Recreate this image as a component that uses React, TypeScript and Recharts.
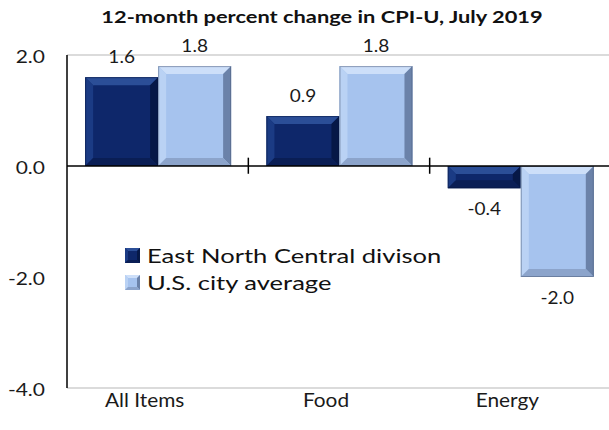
import React from 'react';
import { BarChart, Bar, XAxis, YAxis, ReferenceLine, LabelList, Legend } from 'recharts';

const categories = ['All Items', 'Food', 'Energy'];
const eastNorthCentral = [1.6, 0.9, -0.4];
const usCityAverage = [1.8, 1.8, -2.0];
const yTicks = [-4, -2, 0, 2];
const seriesNames = ['East North Central divison', 'U.S. city average'];
const boundaryAfter = ['All Items', 'Food'];
const title = '12-month percent change in CPI-U, July 2019';

const data = categories.map((c, i) => ({
  category: c,
  enc: eastNorthCentral[i],
  us: usCityAverage[i],
}));

const FONT = 'Lato, "Open Sans", sans-serif';

const palettes: Record<string, any> = {
  dark: { face: '#0e276a', top: '#2b4e97', left: '#1b3b84', right: '#061847', bottom: '#0a1e55', edge: '#06153d' },
  light: { face: '#a6c3ee', top: '#cddff9', left: '#bad2f4', right: '#6b82a9', bottom: '#8ca4cb', edge: '#4a5a78' },
};

const makeBevel = (kind: string) => (props: any) => {
  const { x, y, width, height } = props;
  const p = palettes[kind];
  const x0 = x;
  const w = width;
  const y0 = height >= 0 ? y : y + height;
  const h = Math.abs(height);
  if (h <= 0 || w <= 0) return <g />;
  const b = Math.min(8, h / 2, w / 2);
  const x1 = x0 + w;
  const y1 = y0 + h;
  return (
    <g>
      <rect x={x0} y={y0} width={w} height={h} fill={p.face} />
      <polygon points={`${x0},${y0} ${x1},${y0} ${x1 - b},${y0 + b} ${x0 + b},${y0 + b}`} fill={p.top} />
      <polygon points={`${x0},${y0} ${x0 + b},${y0 + b} ${x0 + b},${y1 - b} ${x0},${y1}`} fill={p.left} />
      <polygon points={`${x1},${y0} ${x1},${y1} ${x1 - b},${y1 - b} ${x1 - b},${y0 + b}`} fill={p.right} />
      <polygon points={`${x0},${y1} ${x0 + b},${y1 - b} ${x1 - b},${y1 - b} ${x1},${y1}`} fill={p.bottom} />
      <rect x={x0 + 0.5} y={y0 + 0.5} width={w - 1} height={h - 1} fill="none" stroke={p.edge} strokeOpacity={0.5} />
    </g>
  );
};

const valueLabel = (props: any) => {
  const { x, y, width, height, value } = props;
  const top = Math.min(y, y + height);
  const bottom = Math.max(y, y + height);
  const cx = x + width / 2;
  const ty = value >= 0 ? top - 14 : bottom + 27;
  return (
    <text
      transform={`translate(${cx},${ty}) scale(1.12,1)`}
      x={0}
      y={0}
      textAnchor="middle"
      fontFamily={FONT}
      fontSize={17}
      fill="#1a1a1a"
    >
      {Number(value).toFixed(1)}
    </text>
  );
};

const CategoryTick = (props: any) => {
  const { x, y, payload } = props;
  return (
    <text
      transform={`translate(${x - 13},${y + 14}) scale(1.07,1)`}
      x={0}
      y={0}
      textAnchor="middle"
      fontFamily={FONT}
      fontSize={19.5}
      fill="#1a1a1a"
    >
      {payload.value}
    </text>
  );
};

const ValueTick = (props: any) => {
  const { x, y, payload } = props;
  return (
    <text
      transform={`translate(${x},${y + 8}) scale(1.2,1)`}
      x={0}
      y={0}
      textAnchor="end"
      fontFamily={FONT}
      fontSize={17.5}
      fill="#1a1a1a"
    >
      {Number(payload.value).toFixed(1)}
    </text>
  );
};

const Swatch = ({ kind }: { kind: string }) => {
  const p = palettes[kind];
  return (
    <svg width={15} height={15} style={{ marginRight: 7, flex: 'none' }}>
      <rect x={0} y={0} width={15} height={15} fill={p.face} />
      <polygon points="0,0 15,0 12,3 3,3" fill={p.top} />
      <polygon points="0,0 3,3 3,12 0,15" fill={p.left} />
      <polygon points="15,0 15,15 12,12 12,3" fill={p.right} />
      <polygon points="0,15 3,12 12,12 15,15" fill={p.bottom} />
    </svg>
  );
};

const LegendContent = (props: any) => {
  const payload = props.payload || [];
  return (
    <div style={{ fontFamily: FONT, fontSize: 19.5, color: '#111' }}>
      {payload.map((entry: any, i: number) => (
        <div key={i} style={{ display: 'flex', alignItems: 'center', height: 27, whiteSpace: 'nowrap' }}>
          <Swatch kind={entry.dataKey === 'enc' ? 'dark' : 'light'} />
          <span style={{ display: 'inline-block', transform: 'scaleX(1.31)', transformOrigin: 'left center' }}>
            {entry.value}
          </span>
        </div>
      ))}
    </div>
  );
};

export default function App() {
  return (
    <div style={{ position: 'absolute', left: 0, top: 0, width: 609, height: 430, overflow: 'hidden', background: '#fff' }}>
      <BarChart
        width={612}
        height={430}
        data={data}
        margin={{ top: 55, right: 1, bottom: 12, left: 0 }}
        barCategoryGap="10%"
        barGap={0}
      >
        <text
          transform="translate(322,23) scale(1.34,1)"
          x={0}
          y={0}
          textAnchor="middle"
          fontFamily={FONT}
          fontWeight={700}
          fontSize={16.3}
          fill="#111"
        >
          {title}
        </text>
        <XAxis
          dataKey="category"
          axisLine={false}
          tickLine={false}
          tickSize={0}
          tickMargin={5}
          height={30}
          tick={<CategoryTick />}
          interval={0}
        />
        <YAxis
          domain={[-4, 2]}
          ticks={yTicks}
          width={67}
          tickLine={false}
          tickSize={0}
          tickMargin={22}
          axisLine={{ stroke: '#000', strokeWidth: 1.5 }}
          tick={<ValueTick />}
          allowDataOverflow
        />
        <ReferenceLine y={2} stroke="#cfcfcf" strokeWidth={1.5} />
        <ReferenceLine y={-4} stroke="#cfcfcf" strokeWidth={1.5} />
        <Legend
          layout="vertical"
          align="center"
          verticalAlign="middle"
          content={<LegendContent />}
          wrapperStyle={{ position: 'absolute', left: 125, top: 242, width: 'auto' }}
        />
        <Bar dataKey="enc" name={seriesNames[0]} fill={palettes.dark.face} shape={makeBevel('dark')} isAnimationActive={false}>
          <LabelList dataKey="enc" content={valueLabel} />
        </Bar>
        <Bar dataKey="us" name={seriesNames[1]} fill={palettes.light.face} shape={makeBevel('light')} isAnimationActive={false}>
          <LabelList dataKey="us" content={valueLabel} />
        </Bar>
        <ReferenceLine y={0} stroke="#000" strokeWidth={1.5} />
        {boundaryAfter.map((c) => (
          <ReferenceLine
            key={c}
            position="end"
            segment={[{ x: c, y: 0.15 }, { x: c, y: -0.14 }]}
            stroke="#000"
            strokeWidth={1.5}
          />
        ))}
      </BarChart>
    </div>
  );
}
